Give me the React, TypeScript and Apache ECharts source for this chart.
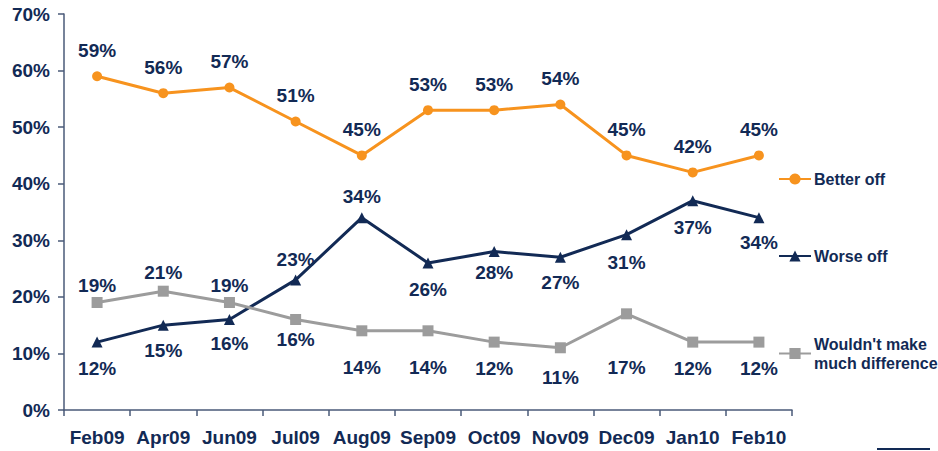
import React, { useEffect, useRef } from "react";
import * as echarts from "echarts";

const categories = ["Feb09", "Apr09", "Jun09", "Jul09", "Aug09", "Sep09", "Oct09", "Nov09", "Dec09", "Jan10", "Feb10"];
const betterOff = [59, 56, 57, 51, 45, 53, 53, 54, 45, 42, 45];
const worseOff = [12, 15, 16, 23, 34, 26, 28, 27, 31, 37, 34];
const noDifference = [19, 21, 19, 16, 14, 14, 12, 11, 17, 12, 12];
const yTicks = [0, 10, 20, 30, 40, 50, 60, 70];

// label placement: positive = below the point, negative = above (px of label-centre offset)
const betterOffLabelShift = [-26, -26, -26, -26, -26, -26, -26, -26, -26, -26, -26];
const worseOffLabelShift = [26, 25, 24, -20, -21, 27, 21, 25, 28, 27, 25];
const noDiffLabelShift = [-17, -19, -17, 20, 37, 37, 26, 30, 54, 26, 26];

const NAVY = "#122A55";
const ORANGE = "#F7931E";
const GRAY = "#9C9C9C";
const FONT = "'Liberation Sans', Arial, sans-serif";

function withLabels(values: number[], shifts: number[]) {
  return values.map((v, i) => ({
    value: v,
    label: { position: "inside", offset: [0, shifts[i]] },
  }));
}

export default function App() {
  const ref = useRef<HTMLDivElement>(null);
  useEffect(() => {
    if (!ref.current) return;
    const chart = echarts.init(ref.current, null, { renderer: "svg" });
    const labelStyle = {
      show: true,
      formatter: "{c}%",
      color: NAVY,
      fontSize: 19,
      fontWeight: "bold",
      fontFamily: FONT,
    };
    const legendBase = {
      orient: "vertical",
      left: 778,
      padding: 0,
      itemWidth: 32,
      itemHeight: 14,
      itemGap: 4,
      textStyle: { color: NAVY, fontSize: 16, fontWeight: "bold", fontFamily: FONT, padding: [0, 0, 0, -2] },
    };
    chart.setOption({
      animation: false,
      backgroundColor: "#ffffff",
      grid: { left: 64, right: 146, top: 14, bottom: 41, containLabel: false },
      legend: [
        { ...legendBase, top: 171, data: ["Better off"] },
        { ...legendBase, top: 248, data: ["Worse off"] },
        {
          ...legendBase,
          top: 325,
          data: ["Wouldn't make much difference"],
          formatter: () => "Wouldn't make\nmuch difference",
          textStyle: { ...legendBase.textStyle, lineHeight: 19, padding: [19, 0, 0, -2] },
        },
      ],
      xAxis: {
        type: "category",
        data: categories,
        boundaryGap: true,
        axisLine: { lineStyle: { color: "#4A5A78", width: 1.5 } },
        axisTick: { show: true, length: 6, lineStyle: { color: "#4A5A78", width: 1.5 } },
        axisLabel: { color: NAVY, fontSize: 19, fontWeight: "bold", fontFamily: FONT, margin: 18, interval: 0 },
      },
      yAxis: {
        type: "value",
        min: yTicks[0],
        max: yTicks[yTicks.length - 1],
        interval: 10,
        axisLine: { show: true, lineStyle: { color: "#4A5A78", width: 1.5 } },
        axisTick: { show: true, length: 6, lineStyle: { color: "#4A5A78", width: 1.5 } },
        splitLine: { show: false },
        axisLabel: { color: NAVY, fontSize: 19, fontWeight: "bold", fontFamily: FONT, margin: 14, formatter: "{value}%" },
      },
      series: [
        {
          name: "Better off",
          type: "line",
          data: withLabels(betterOff, betterOffLabelShift),
          symbol: "circle",
          symbolSize: 10,
          lineStyle: { color: ORANGE, width: 3 },
          itemStyle: { color: ORANGE },
          label: labelStyle,
        },
        {
          name: "Worse off",
          type: "line",
          data: withLabels(worseOff, worseOffLabelShift),
          symbol: "triangle",
          symbolSize: 11,
          lineStyle: { color: NAVY, width: 3 },
          itemStyle: { color: NAVY },
          label: labelStyle,
        },
        {
          name: "Wouldn't make much difference",
          type: "line",
          data: withLabels(noDifference, noDiffLabelShift),
          symbol: "rect",
          symbolSize: 11,
          lineStyle: { color: GRAY, width: 3 },
          itemStyle: { color: GRAY },
          label: labelStyle,
        },
      ],
      graphic: [
        { type: "line", shape: { x1: 877, y1: 449, x2: 930, y2: 449 }, style: { stroke: NAVY, lineWidth: 2 } },
      ],
    });
    return () => chart.dispose();
  }, []);
  return <div ref={ref} style={{ width: 938, height: 451, position: "absolute", left: 0, top: 0 }} />;
}
